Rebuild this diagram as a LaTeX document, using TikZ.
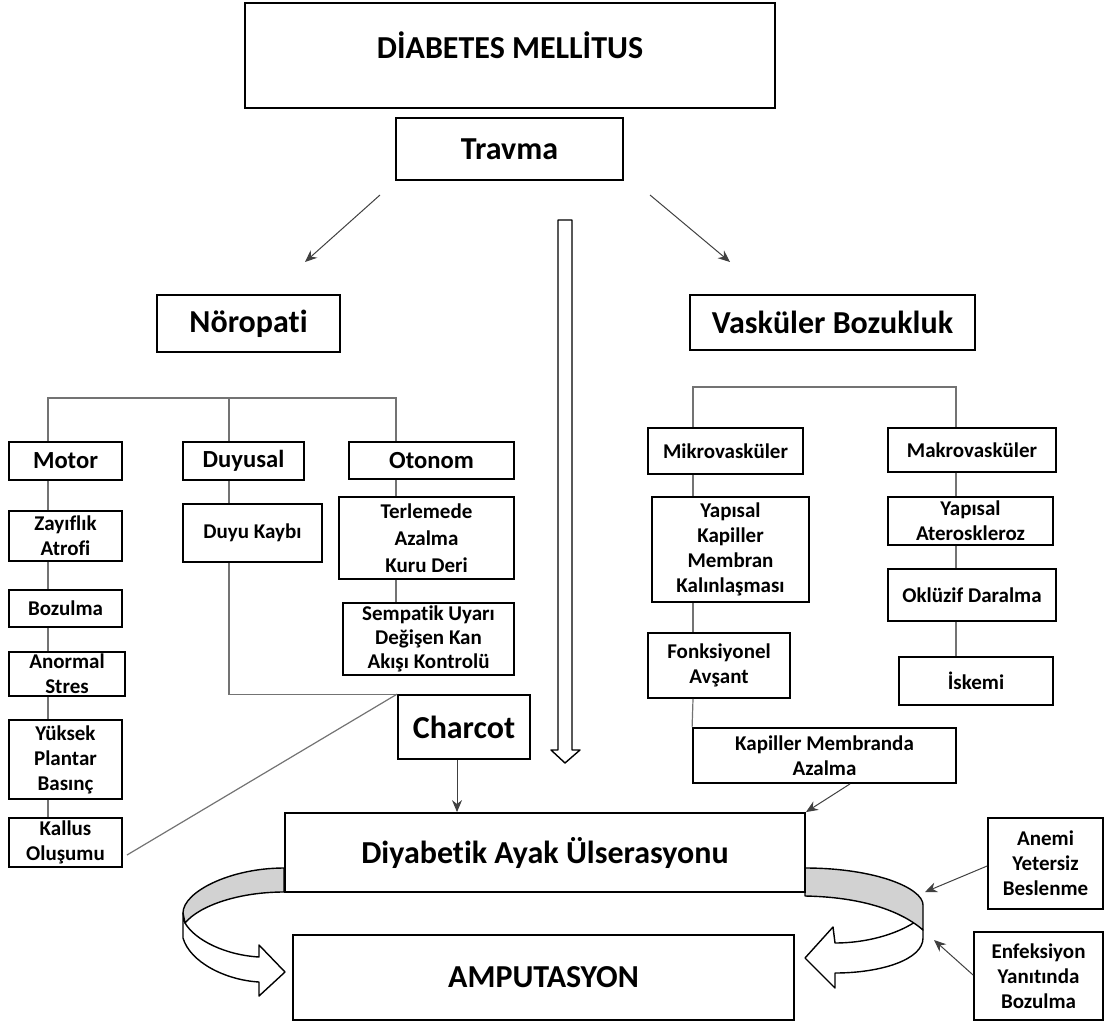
\documentclass[tikz,border=0pt]{standalone}
\usepackage{fontspec}
\setmainfont{Carlito}[Ligatures=NoCommon]
\usetikzlibrary{arrows.meta}
\definecolor{ribbon}{RGB}{210,210,210}
\tikzset{
 bx/.style={draw=black, line width=0.9pt, fill=white, inner xsep=2pt, inner ysep=1pt, align=center, font=\bfseries\fontsize{10.5}{12.5}\selectfont},
 bigbx/.style={bx, font=\bfseries\fontsize{16}{19}\selectfont},
 midbx/.style={bx, font=\bfseries\fontsize{12.3}{14}\selectfont},
 tree/.style={draw=black!55, line width=0.6pt},
 arr/.style={draw=black!75, line width=0.5pt, -{Stealth[length=6pt,width=5pt]}},
 rib/.style={draw=black, line width=0.7pt, line join=round},
}
\begin{document}
\begin{tikzpicture}[x=0.5pt,y=-0.5pt]
\useasboundingbox (0,0) rectangle (1106,1026);

% ribbons (curved arrows)
\draw[rib, fill=white] (183,913) -- (183,938) .. controls (190,962) and (225,980) .. (259,982) -- (259,996) -- (285,972) -- (259,945) -- (259,957) .. controls (225,955) and (195,940) .. (185,923) -- cycle;
\draw[rib, fill=ribbon] (284,868) .. controls (230,868) and (183,892) .. (183,913) -- (185,923) .. controls (200,905) and (240,892) .. (284,892) -- cycle;
\draw[rib, fill=white] (915,922) .. controls (895,935) and (865,943) .. (835,943) -- (833,927) -- (805,958) -- (835,988) -- (835,973) .. controls (880,973) and (923,960) .. (923,938) -- (923,930) -- cycle;
\draw[rib, fill=ribbon] (805,868) .. controls (875,868) and (923,888) .. (923,905) -- (923,930) .. controls (900,910) and (860,897) .. (805,896) -- cycle;

% big hollow arrow
\draw[rib, fill=white] (558,220) -- (572,220) -- (572,750) -- (580,750) -- (565,763) -- (551,750) -- (558,750) -- cycle;

% nodes
\node[bigbx, minimum width=265pt, minimum height=52.5pt] (dm) at (510,55.5) {};
\node[font=\bfseries\fontsize{16}{19}\selectfont] (dmt) at (510,45) {DİABETES MELLİTUS};
\node[bigbx, minimum width=113.5pt, minimum height=31pt] (travma) at (509.5,149) {Travma};
\node[bigbx, minimum width=91.5pt, minimum height=28.5pt] (noro) at (248.5,323.5) {Nöropati};
\node[bigbx, minimum width=142.5pt, minimum height=27.5pt] (vask) at (832.5,322.5) {Vasküler Bozukluk};

\node[midbx, minimum width=56.5pt, minimum height=19pt] (motor) at (65.5,461) {Motor};
\node[midbx, minimum width=60.5pt, minimum height=19pt] (duy) at (243.5,461) {Duyusal};
\node[midbx, minimum width=82.5pt, minimum height=18.5pt] (oto) at (431.5,460.5) {Otonom};

\node[bx, minimum width=56.5pt, minimum height=25pt] (zay) at (65.5,536) {Zayıflık\\Atrofi};
\node[bx, minimum width=56.5pt, minimum height=18.5pt] (boz) at (65.5,608.5) {Bozulma};
\node[bx, minimum width=58pt, minimum height=22pt, inner ysep=0pt] (ano) at (67,674) {Anormal\\Stres};
\node[bx, minimum width=56.5pt, minimum height=39.5pt] (yuk) at (65.5,759.5) {Yüksek\\Plantar\\Basınç};
\node[bx, minimum width=56.5pt, minimum height=24.5pt] (kal) at (65.5,842.5) {Kallus\\Oluşumu};
\node[bx, minimum width=69.5pt, minimum height=29pt] (dk) at (252.5,533) {Duyu Kaybı};
\node[bx, minimum width=87.5pt, minimum height=41pt, font=\bfseries\fontsize{10.5}{13.5}\selectfont] (ter) at (426.5,538) {Terlemede\\Azalma\\Kuru Deri};
\node[bx, minimum width=85.5pt, minimum height=36pt, font=\bfseries\fontsize{10.5}{12}\selectfont] (sem) at (428.5,639) {Sempatik Uyarı\\Değişen Kan\\Akışı Kontrolü};
\node[bigbx, minimum width=66pt, minimum height=32pt] (charcot) at (464,727) {Charcot};

\node[bx, minimum width=77.5pt, minimum height=23pt] (mikro) at (725.5,451) {Mikrovasküler};
\node[bx, minimum width=78.5pt, minimum height=52.5pt] (yk) at (730.5,549.5) {Yapısal\\Kapiller\\Membran\\Kalınlaşması};
\node[bx, minimum width=71pt, minimum height=32.5pt] (fon) at (719,665.5) {Fonksiyonel\\Avşant};
\node[bx, minimum width=131.5pt, minimum height=27.5pt] (km) at (824.5,755.5) {Kapiller Membranda\\Azalma};
\node[bx, minimum width=84pt, minimum height=22pt] (makro) at (972,450) {Makrovasküler};
\node[bx, minimum width=82.5pt, minimum height=24pt] (ya) at (970.5,521) {Yapısal\\Ateroskleroz};
\node[bx, minimum width=84pt, minimum height=26pt] (okl) at (972,595) {Oklüzif Daralma};
\node[bx, minimum width=77pt, minimum height=24pt] (isk) at (976,681) {İskemi};

\node[bigbx, minimum width=260pt, minimum height=39.5pt] (diy) at (545,852.5) {Diyabetik Ayak Ülserasyonu};
\node[bigbx, minimum width=250.5pt, minimum height=42.5pt] (amp) at (543.5,977.5) {AMPUTASYON};
\node[bx, minimum width=57.5pt, minimum height=45.5pt] (anemi) at (1045.5,863.5) {Anemi\\Yetersiz\\Beslenme};
\node[bx, minimum width=64.5pt, minimum height=44pt] (enf) at (1038.5,976) {Enfeksiyon\\Yanıtında\\Bozulma};

% coordinates
\coordinate (t1a) at (380,195); \coordinate (t1b) at (305,262);
\coordinate (t2a) at (650,195); \coordinate (t2b) at (730,262);
\coordinate (nl) at (48,398); \coordinate (nm) at (229,398); \coordinate (nr) at (396,398);
\coordinate (vl) at (693,387); \coordinate (vr) at (956,387);
\coordinate (kl) at (127,855);
\coordinate (cx) at (457,0);
\coordinate (kx) at (850,0);
\coordinate (ay) at (0,866); \coordinate (ra) at (925,892);
\coordinate (ey) at (0,975); \coordinate (re) at (934,940);

% Travma arrows
\draw[arr] (t1a) -- (t1b);
\draw[arr] (t2a) -- (t2b);

% neuropathy tree
\draw[tree] (motor.north -| nl) -- (nl) -- (nr) -- (oto.north -| nr);
\draw[tree] (nm) -- (duy.north -| nm);
\draw[tree] (motor.south -| nl) -- (zay.north -| nl);
\draw[tree] (zay.south -| nl) -- (boz.north -| nl);
\draw[tree] (boz.south -| nl) -- (ano.north -| nl);
\draw[tree] (ano.south -| nl) -- (yuk.north -| nl);
\draw[tree] (yuk.south -| nl) -- (kal.north -| nl);
\draw[tree] (duy.south -| nm) -- (dk.north -| nm);
\draw[tree] (dk.south -| nm) |- (charcot.north west);
\draw[tree] (oto.south -| nr) -- (ter.north -| nr);
\draw[tree] (ter.south -| nr) -- (sem.north -| nr);
\draw[tree] (kl) -- (charcot.north west);

% vascular tree
\draw[tree] (mikro.north -| vl) -- (vl) -- (vr) -- (makro.north -| vr);
\draw[tree] (mikro.south -| vl) -- (yk.north -| vl);
\draw[tree] (yk.south -| vl) -- (fon.north -| vl);
\draw[tree] (fon.south -| vl) -- (km.north west);
\draw[tree] (makro.south -| vr) -- (ya.north -| vr);
\draw[tree] (ya.south -| vr) -- (okl.north -| vr);
\draw[tree] (okl.south -| vr) -- (isk.north -| vr);

% arrows to ulcer
\draw[arr] (charcot.south -| cx) -- (diy.north -| cx);
\draw[arr] (km.south -| kx) -- (diy.north east);
\draw[arr] (anemi.west |- ay) -- (ra);
\draw[arr] (enf.west |- ey) -- (re);
\end{tikzpicture}
\end{document}
